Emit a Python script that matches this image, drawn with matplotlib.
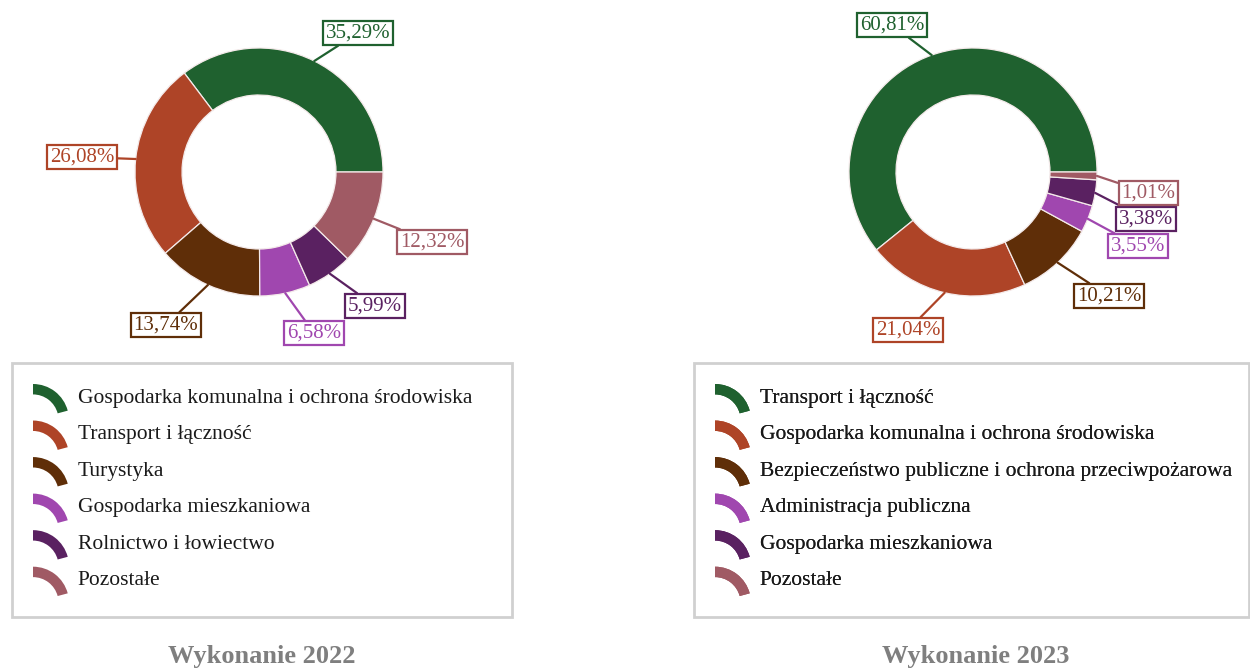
import numpy as np
import matplotlib
matplotlib.use("Agg")
import matplotlib.pyplot as plt
from matplotlib.patches import Wedge, Rectangle
from matplotlib.legend_handler import HandlerBase

plt.rcParams['font.family'] = ['Liberation Serif', 'DejaVu Serif']

# slice colours, shared by both years
colors = ['#1f612f', '#ae4427', '#5f2e08', '#a047af', '#5a2161', '#a05a64']

labels_2022 = ['Gospodarka komunalna i ochrona środowiska', 'Transport i łączność',
               'Turystyka', 'Gospodarka mieszkaniowa', 'Rolnictwo i łowiectwo', 'Pozostałe']
values_2022 = [35.29, 26.08, 13.74, 6.58, 5.99, 12.32]

labels_2023 = ['Transport i łączność', 'Gospodarka komunalna i ochrona środowiska',
               'Bezpieczeństwo publiczne i ochrona przeciwpożarowa', 'Administracja publiczna',
               'Gospodarka mieszkaniowa', 'Pozostałe']
values_2023 = [60.81, 21.04, 10.21, 3.55, 3.38, 1.01]

W, H = 1250, 670

# where the value boxes sit (pixels from top-left)
boxes_2022 = [(358, 33), (82, 157), (166, 325), (314, 333), (375, 306), (432, 242)]
boxes_2023 = [(892, 25), (908, 330), (1109, 296), (1138, 246), (1146, 219), (1148, 193)]


class ArcHandler(HandlerBase):
    # legend key drawn as a piece of a ring
    def create_artists(self, legend, orig_handle, xdescent, ydescent,
                       width, height, fontsize, trans):
        r = width
        cx = -xdescent
        cy = -ydescent + height - r
        arc = Wedge((cx, cy), r, 15, 90, width=r * 0.29,
                    facecolor=orig_handle.get_facecolor(), edgecolor='none',
                    transform=trans)
        return [arc]


fig = plt.figure(figsize=(W / 100, H / 100), dpi=100)
ax = fig.add_axes([0, 0, 1, 1])


def donut(values, labels, boxes, cx, cy, leg_x, frame_x, frame_w, title):
    R = 124
    wedges, _ = ax.pie(values, colors=colors, center=(cx, H - cy), radius=R,
                       startangle=0, counterclock=True,
                       wedgeprops=dict(width=47, edgecolor='#f4eaea', linewidth=0.9))
    for w, v, c, (bx, by) in zip(wedges, values, colors, boxes):
        ang = np.deg2rad((w.theta1 + w.theta2) / 2)
        px = cx + R * np.cos(ang)
        py = H - cy + R * np.sin(ang)
        ax.annotate(f'{v:.2f}%'.replace('.', ','), xy=(px, py), xytext=(bx, H - by),
                    ha='center', va='center', color=c, fontsize=15,
                    bbox=dict(boxstyle='square,pad=0.12', fc='white', ec=c, lw=1.6),
                    arrowprops=dict(arrowstyle='-', color=c, lw=1.6,
                                    shrinkA=0, shrinkB=0))

    ax.add_patch(Rectangle((frame_x, H - 617), frame_w, 254, fill=False,
                           edgecolor='#d0d0d0', linewidth=2))
    leg = ax.legend(wedges, labels, loc='upper left',
                    bbox_to_anchor=(leg_x, H - 384), bbox_transform=ax.transData,
                    frameon=False, fontsize=15.5, borderpad=0, borderaxespad=0,
                    handlelength=1.67, handleheight=1.25, handletextpad=0.4,
                    labelspacing=0.6, handler_map={Wedge: ArcHandler()})
    for t in leg.get_texts():
        t.set_color('#1a1a1a')
    ax.add_artist(leg)

    ax.text(cx + 3, H - 656, title, ha='center', va='center', fontsize=19,
            fontweight='bold', color='#7f7f7f')


donut(values_2022, labels_2022, boxes_2022, 259, 172, 33, 12, 500, 'Wykonanie 2022')
donut(values_2023, labels_2023, boxes_2023, 973, 172, 715, 694, 555, 'Wykonanie 2023')

ax.set_xlim(0, W)
ax.set_ylim(0, H)
ax.set_aspect('auto')
ax.axis('off')

fig.savefig('out.png', dpi=100)
